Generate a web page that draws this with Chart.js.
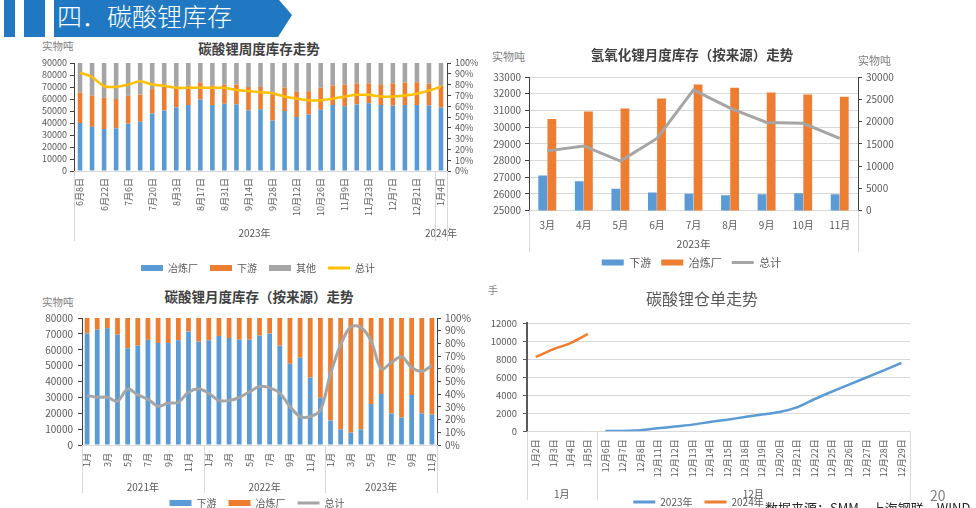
<!DOCTYPE html>
<html lang="zh">
<head>
<meta charset="utf-8">
<title>碳酸锂库存</title>
<script src="https://cdn.jsdelivr.net/npm/chart.js@4.4.1/dist/chart.umd.min.js"></script>
<style>
  body { margin: 0; width: 976px; height: 508px; overflow: hidden; background: #fff; position: relative;
         font-family: "Noto Sans CJK SC", "Noto Sans", sans-serif; }
  .abs { position: absolute; white-space: nowrap; line-height: 1; }
  .stripe { position: absolute; top: 0; height: 37px; background: #1f78c1; }
  .banner { position: absolute; left: 54px; top: 0; width: 238px; height: 37px; background: #1f78c1;
            clip-path: polygon(0 0, 225px 0, 238px 15px, 224px 37px, 0 37px);
            color: #fff; font-size: 25px; font-weight: 300; line-height: 31px; padding-left: 3px; box-sizing: border-box; }
  .title { color: #404040; font-weight: bold; font-size: 13.5px; text-align: center; }
  .unit { color: #7f7f7f; font-size: 10.5px; }
  canvas { position: absolute; }
</style>
</head>
<body>
<div class="stripe" style="left:4px;width:11px"></div>
<div class="stripe" style="left:24px;width:21px"></div>
<div class="banner">四．碳酸锂库存</div>

<div class="abs unit" style="left:42px;top:41px">实物吨</div>
<div class="abs title" style="left:159px;top:42px;width:200px">碳酸锂周度库存走势</div>
<canvas id="weekly" width="490" height="245" style="left:0;top:40px"></canvas>

<div class="abs unit" style="left:492px;top:51px;font-size:11px">实物吨</div>
<div class="abs unit" style="left:858px;top:55px;font-size:11px">实物吨</div>
<div class="abs title" style="left:572px;top:48px;width:240px">氢氧化锂月度库存（按来源）走势</div>
<canvas id="hydroxide" width="420" height="240" style="left:480px;top:40px"></canvas>

<div class="abs unit" style="left:42px;top:297px">实物吨</div>
<div class="abs title" style="left:139px;top:290px;width:240px">碳酸锂月度库存（按来源）走势</div>
<canvas id="carbonate" width="485" height="230" style="left:0;top:290px"></canvas>

<div class="abs unit" style="left:488px;top:285px;font-size:10px">手</div>
<div class="abs title" style="left:602px;top:290px;width:200px;font-size:16px;font-weight:normal;color:#595959">碳酸锂仓单走势</div>
<canvas id="warrant" width="496" height="240" style="left:480px;top:280px"></canvas>

<div class="abs" style="left:930px;top:488px;font-size:14px;color:#808080">20</div>
<div class="abs" style="left:765px;top:501px;font-size:13px;color:#262626">数据来源：SMM，上海钢联，WIND</div>

<script>
// ---- data: 碳酸锂周度库存 ----
const weekLabels = ['6月8日', '6月15日', '6月22日', '6月29日', '7月6日', '7月13日', '7月20日', '7月27日',
  '8月3日', '8月10日', '8月17日', '8月24日', '8月31日', '9月7日', '9月14日', '9月21日', '9月28日',
  '10月5日', '10月12日', '10月19日', '10月26日', '11月2日', '11月9日', '11月16日', '11月23日', '11月30日',
  '12月7日', '12月14日', '12月21日', '12月28日', '1月4日'];
const weeklySmelter = [40000, 36800, 35000, 35600, 39500, 41000, 48000, 50500, 53000, 55000, 59500, 55000, 56000,
  55500, 50500, 51500, 42000, 50000, 45000, 47000, 51000, 55000, 54000, 55500, 56500, 55000, 54500, 55000, 55000, 54500, 53000];
const weeklyDownstream = [25400, 25800, 26000, 24400, 23100, 22700, 20200, 20000, 16800, 16000, 14200, 16000, 16000,
  16500, 19500, 18500, 24000, 19500, 21000, 19500, 18500, 16200, 18000, 17500, 16500, 17300, 18500, 18700, 19000, 18400, 18200];
const weeklyOther = [24600, 27400, 29000, 30000, 27400, 26300, 21800, 19500, 20200, 19000, 16300, 19000, 18000,
  18000, 20000, 20000, 24000, 20500, 24000, 23500, 20500, 18800, 18000, 17000, 17000, 17700, 17000, 16300, 16000, 17100, 18800];
const weeklyTotalPct = [0.91, 0.87, 0.785, 0.78, 0.80, 0.83, 0.80, 0.79, 0.77, 0.77, 0.77, 0.77, 0.77, 0.75, 0.74,
  0.73, 0.72, 0.69, 0.67, 0.655, 0.655, 0.67, 0.69, 0.705, 0.705, 0.69, 0.69, 0.70, 0.715, 0.745, 0.78];
const weekGroups = [['2023年', 0, 29], ['2024年', 30, 30]];

// ---- data: 氢氧化锂月度库存 ----
const hydroxideMonths = ['3月', '4月', '5月', '6月', '7月', '8月', '9月', '10月', '11月'];
const hydroxideDownstream = [27100, 26750, 26300, 26080, 26000, 25920, 25980, 26040, 25980];
const hydroxideSmelter = [30490, 30930, 31110, 31710, 32550, 32350, 32070, 31950, 31810];
const hydroxideTotal = [13400, 14500, 11100, 16200, 27100, 23000, 19800, 19600, 16200];
const hydroxideGroups = [['2023年', 0, 8]];

// ---- data: 碳酸锂月度库存（按来源） ----
const monthNames = ['1月', '2月', '3月', '4月', '5月', '6月', '7月', '8月', '9月', '10月', '11月', '12月'];
const carbonateMonths = monthNames.concat(monthNames, monthNames.slice(0, 11));
const carbonateDownstream = [70200, 72700, 73600, 69500, 60900, 62600, 66200, 64300, 64300, 66000, 71500, 65100,
  66000, 68700, 67400, 66400, 66400, 68900, 70200, 62600, 51200, 55000, 42500, 29800,
  15400, 9900, 7800, 9900, 25800, 32100, 19900, 17300, 31500, 19900, 19200];
const carbonateSmelter = [9800, 7300, 6400, 10500, 19100, 17400, 13800, 15700, 15700, 14000, 8500, 14900,
  14000, 11300, 12600, 13600, 13600, 11100, 9800, 17400, 28800, 25000, 37500, 50200,
  64600, 70100, 72200, 70100, 54200, 47900, 60100, 62700, 48500, 60100, 60800];
const carbonateTotalPct = [0.39, 0.376, 0.376, 0.345, 0.44, 0.395, 0.36, 0.305, 0.33, 0.337, 0.416, 0.44,
  0.408, 0.35, 0.35, 0.374, 0.418, 0.46, 0.45, 0.408, 0.303, 0.224, 0.224, 0.274,
  0.56, 0.79, 0.93, 0.926, 0.82, 0.60, 0.65, 0.695, 0.61, 0.58, 0.626];
const carbonateGroups = [['2021年', 0, 11], ['2022年', 12, 23], ['2023年', 24, 34]];

// ---- data: 碳酸锂仓单 ----
const warrantDates = ['1月2日', '1月3日', '1月4日', '1月5日', '12月6日', '12月7日', '12月8日', '12月11日',
  '12月12日', '12月13日', '12月14日', '12月15日', '12月18日', '12月19日', '12月20日', '12月21日', '12月22日',
  '12月25日', '12月26日', '12月27日', '12月28日', '12月29日'];
const warrant2023 = [null, null, null, null, 30, 40, 110, 330, 520, 740, 1030, 1290, 1580, 1870, 2130, 2650,
  3550, 4380, 5180, 5960, 6760, 7570];
const warrant2024 = [8240, 9080, 9780, 10800, null, null, null, null, null, null, null, null, null, null, null,
  null, null, null, null, null, null, null];
const warrantGroups = [['1月', 0, 3], ['12月', 4, 21]];

const BLUE = '#5b9bd5', ORANGE = '#ed7d31', GRAY = '#a5a5a5', YELLOW = '#ffc000';
const AXIS = '#404040', GRID = '#d9d9d9';

Chart.defaults.font.family = '"Noto Sans CJK SC", "Noto Sans", sans-serif';
Chart.defaults.color = '#595959';
Chart.defaults.animation = false;
Chart.defaults.plugins.tooltip.enabled = false;

const fixWidth = w => s => { s.width = w; };
const fixHeight = h => s => { s.height = h; };
const pct = v => Math.round(v * 100) + '%';
const plain = v => String(v);
const everyOther = function (v, i) { return i % 2 === 0 ? this.getLabelForValue(v) : ''; };

// two-level category axis (group names + separators), Excel style
const groupAxis = {
  id: 'groupAxis',
  afterDraw(chart, args, opts) {
    const x = chart.scales.x, ctx = chart.ctx;
    const top = chart.chartArea.bottom;
    const half = (x.getPixelForValue(1) - x.getPixelForValue(0)) / 2;
    const edges = [];
    ctx.save();
    ctx.fillStyle = '#595959';
    ctx.font = opts.size + 'px "Noto Sans CJK SC", sans-serif';
    ctx.textAlign = 'center';
    ctx.textBaseline = 'middle';
    opts.groups.forEach(([text, a, b]) => {
      const l = x.getPixelForValue(a) - half, r = x.getPixelForValue(b) + half;
      edges.push(l, r);
      ctx.fillText(text, (l + r) / 2, top + opts.labelOffset);
    });
    ctx.strokeStyle = GRID;
    ctx.lineWidth = 1;
    edges.forEach(e => {
      const px = Math.round(e) + 0.5;
      ctx.beginPath();
      ctx.moveTo(px, top);
      ctx.lineTo(px, top + opts.lineLength);
      ctx.stroke();
    });
    ctx.restore();
  }
};

// legend: bars as wide boxes, lines as strokes, in dataset order
function legendLabels(chart) {
  const items = Chart.defaults.plugins.legend.labels.generateLabels(chart);
  items.sort((a, b) => a.datasetIndex - b.datasetIndex);
  items.forEach(it => {
    const ds = chart.data.datasets[it.datasetIndex];
    if (ds.type === 'line') {
      it.pointStyle = 'line';
      it.lineWidth = 3;
      it.strokeStyle = ds.borderColor;
    } else {
      it.pointStyle = 'rect';
      it.lineWidth = 0;
    }
  });
  return items;
}
function legendOpts(size, padding) {
  return {
    position: 'bottom',
    labels: { usePointStyle: true, pointStyleWidth: 22, boxHeight: 6, padding, font: { size }, color: '#595959', generateLabels: legendLabels }
  };
}
function sideAxis(position, min, max, step, size, pad, width, extra) {
  return Object.assign({
    position, min, max,
    ticks: { stepSize: step, autoSkip: false, callback: plain, font: { size }, padding: pad },
    grid: { drawOnChartArea: false, tickLength: 4, tickColor: AXIS },
    border: { color: AXIS },
    afterFit: fixWidth(width)
  }, extra || {});
}
function catAxis(size, pad, height, extra) {
  return Object.assign({
    grid: { display: false, drawTicks: false },
    border: { color: GRID },
    ticks: { autoSkip: false, minRotation: 90, maxRotation: 90, padding: pad, font: { size } },
    afterFit: fixHeight(height)
  }, extra || {});
}

// 碳酸锂周度库存走势
const wx = catAxis(9, 7, 80, { stacked: true });
wx.ticks.callback = everyOther;
const wy = sideAxis('left', 0, 90000, 10000, 9, 3, 40, { stacked: true });
const wy1 = sideAxis('right', 0, 1, 0.1, 9, 4, 35);
wy1.ticks.callback = pct;
new Chart(document.getElementById('weekly'), {
  type: 'bar',
  data: {
    labels: weekLabels,
    datasets: [
      { label: '冶炼厂', data: weeklySmelter, backgroundColor: BLUE, order: 1 },
      { label: '下游', data: weeklyDownstream, backgroundColor: ORANGE, order: 1 },
      { label: '其他', data: weeklyOther, backgroundColor: GRAY, order: 1 },
      { type: 'line', label: '总计', data: weeklyTotalPct, borderColor: YELLOW, backgroundColor: YELLOW,
        borderWidth: 2.5, pointRadius: 0, tension: 0.35, yAxisID: 'y1', order: 0 }
    ]
  },
  options: {
    responsive: false,
    layout: { padding: { left: 34, right: 8, top: 23, bottom: 2 } },
    datasets: { bar: { barPercentage: 0.38, categoryPercentage: 1 } },
    scales: { x: wx, y: wy, y1: wy1 },
    plugins: { legend: legendOpts(10, 12), groupAxis: { groups: weekGroups, labelOffset: 62, lineLength: 70, size: 10 } }
  },
  plugins: [groupAxis]
});

// 氢氧化锂月度库存（按来源）走势
const hx = catAxis(10, 9, 36.5, { border: { display: false } });
hx.ticks.minRotation = 0;
hx.ticks.maxRotation = 0;
const hy = sideAxis('left', 25000, 33000, 1000, 10, 4, 40);
hy.grid = { drawOnChartArea: true, color: GRID, tickLength: 4, tickColor: AXIS };
new Chart(document.getElementById('hydroxide'), {
  type: 'bar',
  data: {
    labels: hydroxideMonths,
    datasets: [
      { label: '下游', data: hydroxideDownstream, backgroundColor: BLUE, order: 1 },
      { label: '冶炼厂', data: hydroxideSmelter, backgroundColor: ORANGE, order: 1 },
      { type: 'line', label: '总计', data: hydroxideTotal, borderColor: GRAY, backgroundColor: GRAY,
        borderWidth: 3, pointRadius: 0, tension: 0, yAxisID: 'y1', order: 0 }
    ]
  },
  options: {
    responsive: false,
    layout: { padding: { left: 9, right: 6, top: 37, bottom: 2 } },
    datasets: { bar: { barPercentage: 0.96, categoryPercentage: 0.5 } },
    scales: { x: hx, y: hy, y1: sideAxis('right', 0, 30000, 5000, 10, 4, 36) },
    plugins: { legend: legendOpts(11, 10), groupAxis: { groups: hydroxideGroups, labelOffset: 34, lineLength: 42, size: 10.5 } }
  },
  plugins: [groupAxis]
});

// 碳酸锂月度库存（按来源）走势
const cx = catAxis(9, 8, 41, { stacked: true });
cx.ticks.callback = everyOther;
const cy1 = sideAxis('right', 0, 1, 0.1, 10, 4, 35);
cy1.ticks.callback = pct;
new Chart(document.getElementById('carbonate'), {
  type: 'bar',
  data: {
    labels: carbonateMonths,
    datasets: [
      { label: '下游', data: carbonateDownstream, backgroundColor: BLUE, order: 1 },
      { label: '冶炼厂', data: carbonateSmelter, backgroundColor: ORANGE, order: 1 },
      { type: 'line', label: '总计', data: carbonateTotalPct, borderColor: GRAY, backgroundColor: GRAY,
        borderWidth: 3, pointRadius: 0, tension: 0.35, yAxisID: 'y1', order: 0 }
    ]
  },
  options: {
    responsive: false,
    layout: { padding: { left: 42, right: 13, top: 28, bottom: 2 } },
    datasets: { bar: { barPercentage: 0.47, categoryPercentage: 1 } },
    scales: { x: cx, y: sideAxis('left', 0, 80000, 10000, 10, 5, 40, { stacked: true }), y1: cy1 },
    plugins: { legend: legendOpts(10, 12), groupAxis: { groups: carbonateGroups, labelOffset: 42, lineLength: 48, size: 10 } }
  },
  plugins: [groupAxis]
});

// 碳酸锂仓单走势
const rx = catAxis(9, 8, 53.7, { offset: true, border: { display: false } });
const ry = sideAxis('left', 0, 12000, 2000, 9.5, 6, 40);
ry.grid = { drawOnChartArea: true, color: GRID, tickLength: 4, tickColor: '#595959' };
ry.border = { color: '#595959', width: 2 };
new Chart(document.getElementById('warrant'), {
  type: 'line',
  data: {
    labels: warrantDates,
    datasets: [
      { type: 'line', label: '2023年', data: warrant2023, borderColor: BLUE, backgroundColor: BLUE,
        borderWidth: 2.5, pointRadius: 0, tension: 0.3 },
      { type: 'line', label: '2024年', data: warrant2024, borderColor: ORANGE, backgroundColor: ORANGE,
        borderWidth: 2.5, pointRadius: 0, tension: 0.3 }
    ]
  },
  options: {
    responsive: false,
    layout: { padding: { left: 7, right: 66, top: 43, bottom: 3 } },
    scales: { x: rx, y: ry },
    plugins: { legend: legendOpts(10, 12), groupAxis: { groups: warrantGroups, labelOffset: 63, lineLength: 69, size: 10 } }
  },
  plugins: [groupAxis]
});
</script>
</body>
</html>
